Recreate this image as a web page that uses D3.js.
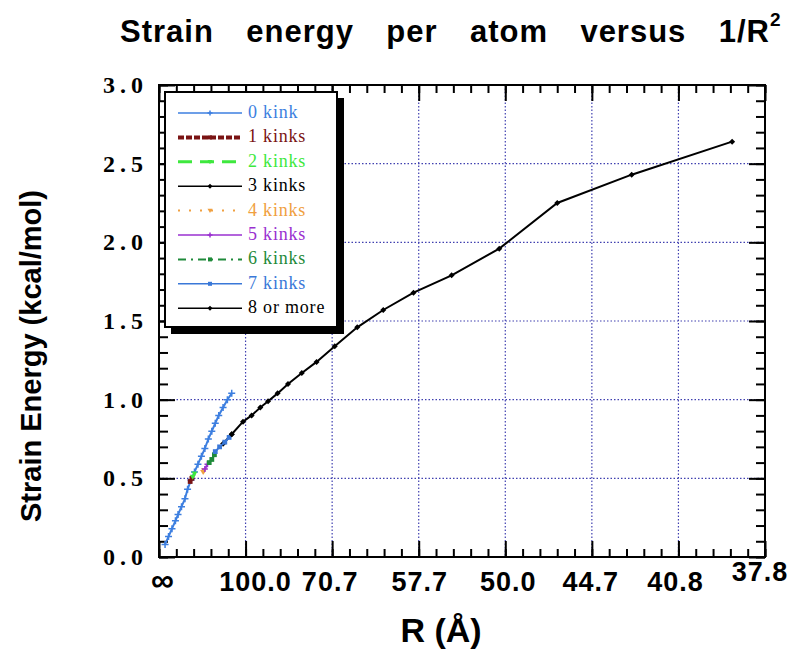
<!DOCTYPE html>
<html><head><meta charset="utf-8">
<script src="https://cdn.jsdelivr.net/npm/d3@7/dist/d3.min.js"></script>
<style>body{margin:0;background:#fff}</style>
</head><body><svg id="c" width="801" height="653"></svg>
<script>
// x values are 1/R^2 in units of 1e-4 Å^-2
const xTickValues = [0,1,2,3,4,5,6,7];
const xTickLabels = ["\u221E","100.0","70.7","57.7","50.0","44.7","40.8","37.8"];
const yTickValues = [0,0.5,1.0,1.5,2.0,2.5,3.0];
const yTickLabels = ["0.0","0.5","1.0","1.5","2.0","2.5","3.0"];
const seriesNames = ["0 kink","1 kinks","2 kinks","3 kinks","4 kinks","5 kinks","6 kinks","7 kinks","8 or more"];
const kink0 = [[0.07,0.08],[0.11,0.13],[0.15,0.18],[0.19,0.23],[0.22,0.27],[0.26,0.32],[0.30,0.37],[0.33,0.43],[0.37,0.49],[0.41,0.54],[0.45,0.59],[0.49,0.64],[0.53,0.69],[0.57,0.75],[0.61,0.80],[0.65,0.85],[0.69,0.90],[0.74,0.95],[0.79,1.00],[0.84,1.04]];
const kink1 = [[0.36,0.48],[0.38,0.50]];
const kink2 = [[0.39,0.51],[0.41,0.53]];
const kink3 = [[0.74,0.72],[0.84,0.78]];
const kink4 = [[0.51,0.54],[0.52,0.55]];
const kink5 = [[0.53,0.56],[0.56,0.59]];
const kink6 = [[0.58,0.60],[0.61,0.62],[0.64,0.65]];
const kink7 = [[0.65,0.67],[0.70,0.70],[0.76,0.73],[0.81,0.76]];
const kink8 = [[0.84,0.78],[0.97,0.86],[1.07,0.90],[1.17,0.95],[1.26,0.99],[1.37,1.04],[1.49,1.10],[1.65,1.17],[1.82,1.24],[2.03,1.34],[2.29,1.46],[2.59,1.57],[2.94,1.68],[3.38,1.79],[3.93,1.96],[4.60,2.25],[5.46,2.43],[6.62,2.64]];

const seriesData = [kink0,kink1,kink2,kink3,kink4,kink5,kink6,kink7,kink8];
const colors = ["#3d7fe0","#7a1414","#3ee83e","#000000","#f0a040","#9a30d0","#1f8a3a","#3a78d8","#000000"];
const dashes = [null,"6,2","14,8",null,"2,9",null,"8,5,2,5",null,null];
const widths = [1.5,4,3,1.5,2,1.5,2,1.5,1.5];
const markers = ["cross","square","tri","diamond","tri","cross","square","square","diamond"];

const svg = d3.select("#c");
const L=159, R=765, T=85, B=557;
const x = d3.scaleLinear().domain([0,7]).range([L,R]);
const y = d3.scaleLinear().domain([0,3]).range([B,T]);

// grid
const g = svg.append("g");
g.selectAll(".gx").data(xTickValues.slice(1,-1)).enter().append("line")
 .attr("x1",d=>x(d)).attr("x2",d=>x(d)).attr("y1",T).attr("y2",B)
 .attr("stroke","#4040b0").attr("stroke-width",1.2).attr("stroke-dasharray","1.5,2");
g.selectAll(".gy").data(yTickValues.slice(1,-1)).enter().append("line")
 .attr("y1",d=>y(d)).attr("y2",d=>y(d)).attr("x1",L).attr("x2",R)
 .attr("stroke","#4040b0").attr("stroke-width",1.2).attr("stroke-dasharray","1.5,2");

// ticks on all sides
const xMinor = d3.range(0,7.0001,0.2).map(v=>+v.toFixed(2));
const yMinor = d3.range(0,3.0001,0.1).map(v=>+v.toFixed(2));
function tickAxis(axisFn, scale, vals, size, tr){
  const a = svg.append("g").attr("transform",tr)
    .call(axisFn(scale).tickValues(vals).tickSize(-size).tickFormat(""));
  a.select(".domain").remove();
  a.selectAll("line").attr("stroke","#000").attr("stroke-width",2);
}
tickAxis(d3.axisBottom,x,xMinor,8,`translate(0,${B})`);
tickAxis(d3.axisBottom,x,xTickValues,16,`translate(0,${B})`);
tickAxis(d3.axisTop,x,xMinor,8,`translate(0,${T})`);
tickAxis(d3.axisTop,x,xTickValues,16,`translate(0,${T})`);
tickAxis(d3.axisLeft,y,yMinor,9,`translate(${L},0)`);
tickAxis(d3.axisLeft,y,yTickValues,16,`translate(${L},0)`);
tickAxis(d3.axisRight,y,yMinor,9,`translate(${R},0)`);
tickAxis(d3.axisRight,y,yTickValues,16,`translate(${R},0)`);

// frame
svg.append("rect").attr("x",L).attr("y",T).attr("width",R-L).attr("height",B-T)
 .attr("fill","none").attr("stroke","#000").attr("stroke-width",2);

// symbols
function drawMarker(sel, type, color, s){
  if(type==="cross"){
    sel.append("path").attr("d",`M${-s},0H${s}M0,${-s}V${s}`).attr("stroke",color).attr("stroke-width",1.5);
  } else if(type==="square"){
    sel.append("rect").attr("x",-s*0.8).attr("y",-s*0.8).attr("width",s*1.6).attr("height",s*1.6).attr("fill",color);
  } else if(type==="diamond"){
    sel.append("path").attr("d",`M0,${-s}L${s},0L0,${s}L${-s},0Z`).attr("fill",color);
  } else if(type==="tri"){
    sel.append("path").attr("d",`M${-s},${-s*0.7}L${s},${-s*0.7}L0,${s}Z`).attr("fill",color);
  }
}

// series
const line = d3.line().x(d=>x(d[0])).y(d=>y(d[1]));
seriesData.forEach((data,i)=>{
  svg.append("path").datum(data).attr("d",line).attr("fill","none")
   .attr("stroke",colors[i]).attr("stroke-width",2);
  data.forEach(d=>{
    const m = svg.append("g").attr("transform",`translate(${x(d[0])},${y(d[1])})`);
    drawMarker(m, markers[i], colors[i], i===0?3.5:3);
  });
});

// tick labels
const xShift = [4,10,-2,1,3,-1,-3,-5];
const yShift = [0,0,0,0,0,0,0,-10];
svg.append("g").selectAll("text").data(xTickValues).enter().append("text")
 .attr("x",(d,i)=>x(d)+xShift[i]).attr("y",(d,i)=>591+yShift[i])
 .attr("text-anchor","middle")
 .attr("font-family","Liberation Sans, Arial, sans-serif").attr("font-weight","bold")
 .attr("font-size",(d,i)=>i===0?32:27).attr("letter-spacing",1)
 .text((d,i)=>xTickLabels[i]);
svg.append("g").selectAll("text").data(yTickValues).enter().append("text")
 .attr("x",148).attr("y",d=>y(d)+8)
 .attr("text-anchor","end")
 .attr("font-family","Liberation Serif, Times New Roman, serif").attr("font-weight","bold")
 .attr("font-size",24).attr("letter-spacing",5)
 .text((d,i)=>yTickLabels[i]);

// axis titles
svg.append("text").attr("transform","translate(41,356) rotate(-90)").attr("text-anchor","middle")
 .attr("font-family","Liberation Sans, Arial, sans-serif").attr("font-weight","bold").attr("font-size",29)
 .text("Strain Energy (kcal/mol)");
svg.append("text").attr("x",441).attr("y",642).attr("text-anchor","middle")
 .attr("font-family","Liberation Sans, Arial, sans-serif").attr("font-weight","bold").attr("font-size",34)
 .text("R (\u00C5)");

// title
const title = svg.append("text").attr("x",120).attr("y",42)
 .attr("font-family","Liberation Sans, Arial, sans-serif").attr("font-weight","bold").attr("font-size",31)
 .attr("letter-spacing",1);
const main = title.append("tspan").text("Strain energy per atom versus 1/R");
title.append("tspan").attr("dy",-16).attr("font-size",19).text("2");
const w = main.node().getComputedTextLength();
const target = 650;
main.attr("word-spacing", Math.max(0,(target-w)/5));

// legend
const lg = svg.append("g");
lg.append("rect").attr("x",171).attr("y",98).attr("width",173).attr("height",236).attr("fill","#000");
lg.append("rect").attr("x",165).attr("y",92).attr("width",172).attr("height",235).attr("fill","#fff").attr("stroke","#000").attr("stroke-width",2);
seriesNames.forEach((name,i)=>{
  const yy = 113 + i*24.4;
  const row = lg.append("g");
  row.append("line").attr("x1",178).attr("x2",242).attr("y1",yy).attr("y2",yy)
   .attr("stroke",colors[i]).attr("stroke-width",widths[i]).attr("stroke-dasharray",dashes[i]);
  const m = row.append("g").attr("transform",`translate(210,${yy})`);
  drawMarker(m, markers[i], colors[i], 2.5);
  row.append("text").attr("x",248).attr("y",yy+5)
   .attr("font-family","Liberation Serif, Times New Roman, serif").attr("font-size",18).attr("letter-spacing",0.8)
   .attr("fill",colors[i]).text(name);
});
</script>
</body></html>
